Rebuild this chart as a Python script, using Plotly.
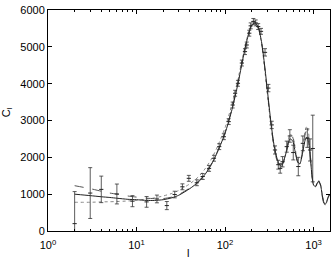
import plotly.graph_objects as go

# ---- data ----
l_model = [2, 3, 4, 5, 6, 8, 10, 13, 16, 20, 25, 30, 40, 50, 60, 70, 80, 100, 120, 140,
           160, 180, 200, 220, 240, 260, 280, 300, 330, 360, 400, 420, 450, 500, 540,
           580, 620, 660, 700, 750, 800, 840, 880, 920, 960, 1000, 1050, 1100, 1150,
           1200, 1250, 1300, 1350, 1400, 1450, 1500, 1540]
c_solid = [1000, 960, 930, 910, 890, 860, 850, 830, 830, 850, 900, 970, 1150, 1330, 1550,
           1800, 2080, 2650, 3300, 4000, 4700, 5250, 5580, 5650, 5500, 5100, 4500, 3850,
           2950, 2300, 1850, 1780, 1850, 2200, 2500, 2450, 2150, 1880, 1820, 2100, 2450,
           2550, 2400, 2000, 1500, 1250, 1200, 1300, 1350, 1250, 1000, 800, 720, 780,
           900, 980, 1000]
c_dashed = [1230, 1150, 1080, 1030, 1000, 950, 920, 890, 880, 880, 920, 990, 1170, 1350,
            1570, 1820, 2100, 2680, 3330, 4030, 4720, 5270, 5600, 5660, 5490, 5080, 4470,
            3800, 2900, 2250, 1800, 1730, 1820, 2250, 2600, 2550, 2200, 1880, 1800, 2150,
            2600, 2750, 2550, 2050, 1500, 1230, 1180, 1290, 1340, 1230, 960, 760, 690,
            760, 880, 960, 980]
c_dotted = [780, 780, 790, 795, 800, 815, 830, 870, 900, 950, 1020, 1100, 1280, 1470, 1700,
            1950, 2230, 2800, 3450, 4120, 4780, 5300, 5600, 5650, 5480, 5050, 4420, 3750,
            2850, 2220, 1780, 1720, 1800, 2250, 2620, 2580, 2250, 1900, 1830, 2200, 2700,
            2850, 2650, 2100, 1530, 1250, 1200, 1320, 1370, 1270, 1000, 780, 700, 760,
            880, 960, 990]

l_data = [2, 3, 4, 6, 9, 13, 17, 22, 27, 33, 39, 48, 56, 66, 75, 86, 97, 110, 122, 130,
          140, 155, 168, 176, 188, 195, 209, 222, 237, 255, 283, 309, 337, 367, 400, 420,
          447, 498, 540, 590, 673, 757, 851, 913, 980]
c_data = [200, 1030, 1130, 1005, 810, 790, 870, 690, 990, 1200, 1430, 1310, 1480, 1700,
          1975, 2290, 2560, 2970, 3420, 3740, 4010, 4560, 4870, 5050, 5370, 5570, 5690,
          5650, 5550, 5420, 4850, 3880, 2880, 2200, 1800, 1700, 1880, 2290, 2580, 2130,
          1750, 2380, 2520, 2200, 2240]
e_data = [870, 690, 360, 270, 150, 145, 105, 110, 90, 80, 80, 80, 80, 80, 80, 80, 80, 80,
          80, 80, 80, 80, 80, 80, 80, 80, 80, 80, 80, 80, 100, 100, 100, 110, 120, 130,
          140, 150, 170, 200, 250, 200, 250, 300, 905]

x_tickvals = [1, 10, 100, 1000]
x_ticktext = ["10<sup>0</sup>", "10<sup>1</sup>", "10<sup>2</sup>", "10<sup>3</sup>"]
y_tickvals = [0, 1000, 2000, 3000, 4000, 5000, 6000]
minor_vals = [m * d for d in (1, 10, 100, 1000) for m in range(2, 10)]

FONT = "Liberation Sans"

fig = go.Figure()
fig.add_trace(go.Scatter(x=l_model, y=c_dotted, mode="lines", line_shape="spline",
                         line=dict(color="#888888", width=1, dash="dot", smoothing=0.6)))
fig.add_trace(go.Scatter(x=l_model, y=c_dashed, mode="lines", line_shape="spline",
                         line=dict(color="#555555", width=1, dash="dash", smoothing=0.6)))
fig.add_trace(go.Scatter(x=l_model, y=c_solid, mode="lines", line_shape="spline",
                         line=dict(color="#222222", width=1, smoothing=0.6)))
fig.add_trace(go.Scatter(x=l_data, y=c_data, mode="markers",
                         marker=dict(color="#222222", size=3, symbol="line-ew",
                                     line=dict(color="#222222", width=1)),
                         error_y=dict(type="data", array=e_data, visible=True,
                                      color="#333333", thickness=0.8, width=2)))

fig.update_layout(
    width=332, height=262,
    margin=dict(l=48, r=2, t=10, b=31),
    paper_bgcolor="white", plot_bgcolor="white",
    showlegend=False,
    font=dict(family=FONT, size=11, color="black"),
    annotations=[
        dict(text="C<sub>l</sub>", xref="paper", yref="paper", x=-0.145, y=0.538,
             xanchor="center", yanchor="middle",
             showarrow=False, textangle=-90, font=dict(family=FONT, size=11, color="black")),
        dict(text="l", xref="paper", yref="paper", x=0.496, y=-0.0995,
             xanchor="center", yanchor="middle",
             showarrow=False, font=dict(family=FONT, size=11, color="black")),
    ],
)
fig.update_xaxes(
    type="log", range=[0, 3.186], automargin=False,
    tickvals=x_tickvals, ticktext=x_ticktext,
    tickfont=dict(family=FONT, size=11, color="black"),
    ticklabelstandoff=4,
    ticks="inside", ticklen=4, tickcolor="black", tickwidth=1,
    minor=dict(tickvals=minor_vals, ticks="inside", ticklen=2, tickcolor="black"),
    showline=True, linecolor="black", linewidth=1, mirror="ticks",
    showgrid=False, zeroline=False,
)
fig.update_yaxes(
    range=[0, 6000], automargin=False,
    tickvals=y_tickvals,
    tickfont=dict(family=FONT, size=11, color="black"),
    ticks="inside", ticklen=4, tickcolor="black", tickwidth=1,
    showline=True, linecolor="black", linewidth=1, mirror="ticks",
    showgrid=False, zeroline=False,
)

# remove the page's default 8px body margin so the figure sits at the window origin
fig.write_html("out.html", config={"displayModeBar": False},
               post_script="document.body.style.margin='0px';")
